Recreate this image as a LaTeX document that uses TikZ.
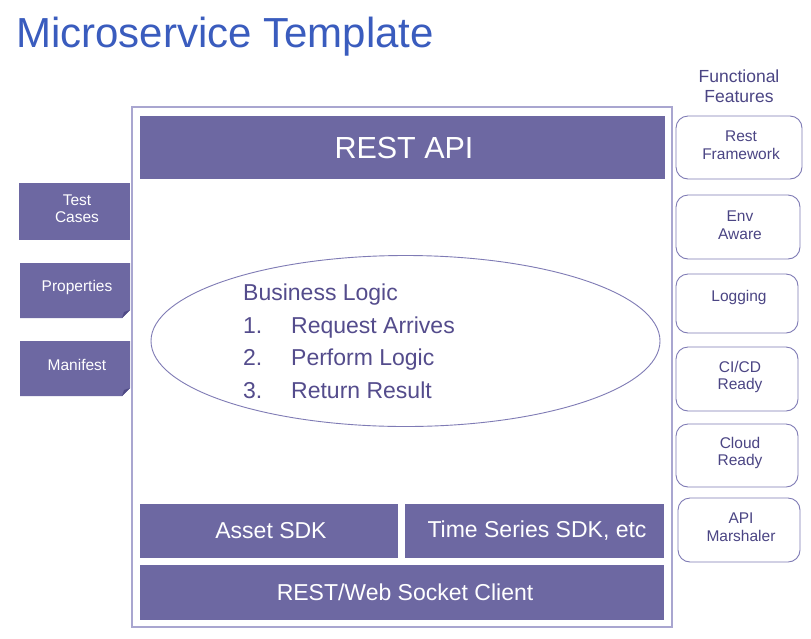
\documentclass[tikz,border=0pt]{standalone}
\usepackage{fontspec}
\setmainfont{Liberation Sans}
\usetikzlibrary{shapes.geometric}

\definecolor{barfill}{HTML}{6D68A2}
\definecolor{foldfill}{HTML}{4F4A85}
\definecolor{titleblue}{HTML}{3A5CBE}
\definecolor{frameline}{HTML}{A9A6D0}
\definecolor{featline}{HTML}{7F7BB5}
\definecolor{feattext}{HTML}{4B4584}
\definecolor{logictext}{HTML}{544C8C}

\tikzset{
  sidelabel/.style={text=white, font=\fontsize{15.5}{17}\selectfont, align=center, inner sep=0pt},
  feature/.style={draw=featline, line width=0.9pt, rounded corners=12pt},
  featlabel/.style={text=feattext, font=\fontsize{15.5}{17.5}\selectfont, align=center, inner sep=0pt},
  logic/.style={text=logictext, font=\fontsize{23}{27}\selectfont, anchor=base west, inner sep=0pt},
  barlabel/.style={text=white, font=\fontsize{23}{27}\selectfont, inner sep=0pt},
}

\begin{document}
\begin{tikzpicture}[x=1pt, y=-1pt]
\useasboundingbox (0,0) rectangle (811,638);
\fill[white] (0,0) rectangle (811,638);

% title
\node[anchor=base west, inner sep=0pt, text=titleblue, font=\fontsize{42}{46}\selectfont] (title) at (16,47) {Microservice Template};

% service container
\draw[frameline, line width=1.4pt] (132,107) rectangle (672,627);

% REST API bar
\fill[barfill] (140,116) rectangle (665,179);
\node[text=white, font=\fontsize{30.5}{34}\selectfont, inner sep=0pt] (restapi) at (404,148) {REST API};

% business logic
\node[draw=featline, line width=0.9pt, ellipse, minimum width=509pt, minimum height=171pt, inner sep=0pt] (logicell) at (405.5,341) {};
\node[logic] (bl)  at (243,300) {Business Logic};
\node[logic] (n1)  at (243,333) {1.};
\node[logic] (t1)  at (291,333) {Request Arrives};
\node[logic] (n2)  at (243,365.5) {2.};
\node[logic] (t2)  at (291,365.5) {Perform Logic};
\node[logic] (n3)  at (243,398) {3.};
\node[logic] (t3)  at (291,398) {Return Result};

% SDK layers
\fill[barfill] (140,504) rectangle (398,558);
\node[barlabel] (asset) at (271,531) {Asset SDK};
\fill[barfill] (405,504) rectangle (664,558);
\node[barlabel] (ts) at (537,531) {Time Series SDK, etc};
\fill[barfill] (140,565) rectangle (664,620);
\node[barlabel] (client) at (405,592) {REST/Web Socket Client};

% side artifacts
\fill[barfill] (19,183) rectangle (130,240);
\node[sidelabel] (tc) at (77,209) {Test\\Cases};

\fill[barfill] (20,263) -- (130,263) -- (130,310) -- (122,318) -- (20,318) -- cycle;
\fill[foldfill] (122,318) -- (130,310) -- (124,312) -- cycle;
\node[sidelabel] (props) at (77,287) {Properties};

\fill[barfill] (20,341) -- (130,341) -- (130,388) -- (122,396) -- (20,396) -- cycle;
\fill[foldfill] (122,396) -- (130,388) -- (124,390) -- cycle;
\node[sidelabel] (manifest) at (77,365) {Manifest};

% functional features
\node[text=feattext, font=\fontsize{17.5}{19.5}\selectfont, align=center, inner sep=0pt] (ffhead) at (739,86) {Functional\\Features};

\draw[feature] (676,116) rectangle (802,179);
\node[featlabel] (f1) at (741,145) {Rest\\Framework};
\draw[feature] (676,195) rectangle (800,259);
\node[featlabel] (f2) at (740,225) {Env\\Aware};
\draw[feature] (676,274) rectangle (798,333);
\node[featlabel] (f3) at (739,297) {Logging};
\draw[feature] (676,347) rectangle (798,411);
\node[featlabel] (f4) at (740,377) {CI/CD\\Ready};
\draw[feature] (676,424) rectangle (798,487);
\node[featlabel] (f5) at (740,453) {Cloud\\Ready};
\draw[feature] (678,498) rectangle (800,562);
\node[featlabel] (f6) at (741,527) {API\\Marshaler};
\end{tikzpicture}
\end{document}
